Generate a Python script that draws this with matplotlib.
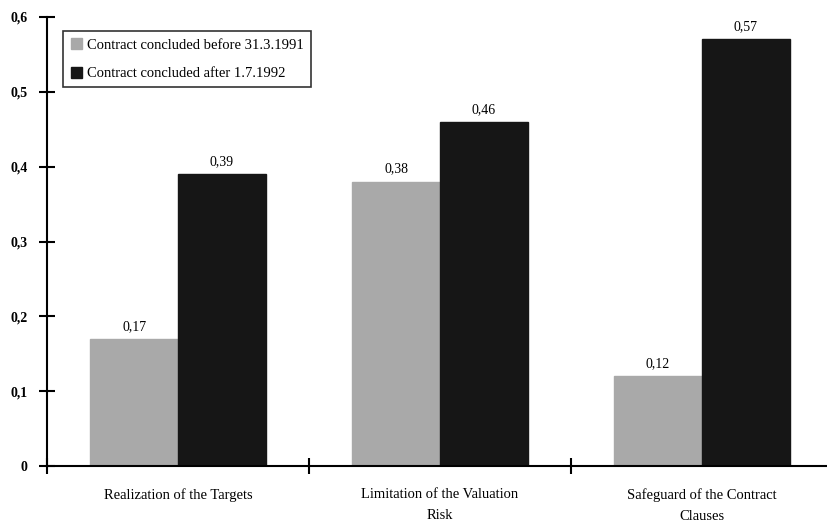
import matplotlib.pyplot as plt
import numpy as np

categories = ["Realization of the Targets", "Limitation of the Valuation\nRisk",
              "Safeguard of the Contract\nClauses"]
before = [0.17, 0.38, 0.12]
after = [0.39, 0.46, 0.57]
series_names = ["Contract concluded before 31.3.1991", "Contract concluded after 1.7.1992"]
yticks = [0, 0.1, 0.2, 0.3, 0.4, 0.5, 0.6]

plt.rcParams["font.family"] = ["Liberation Serif", "DejaVu Serif"]

fig = plt.figure(figsize=(8.27, 5.24), dpi=100)
ax = fig.add_axes([47 / 827, 58 / 524, 786 / 827, 449 / 524])

x = np.arange(len(categories))
w = 0.335
b1 = ax.bar(x - w / 2, before, w, color="#a9a9a9", edgecolor="#a9a9a9", label=series_names[0])
b2 = ax.bar(x + w / 2, after, w, color="#161616", edgecolor="#161616", label=series_names[1])

for bars, vals in ((b1, before), (b2, after)):
    for r, v in zip(bars, vals):
        ax.text(r.get_x() + r.get_width() / 2, v + 0.008, f"{v:.2f}".replace(".", ","),
                ha="center", va="bottom", fontsize=10)

ax.set_xlim(-0.5, 2.5)
ax.set_ylim(0, 0.6)
ax.set_yticks(yticks)
ax.set_yticklabels([("%g" % t).replace(".", ",") for t in yticks], fontsize=10, fontweight="bold")
ax.tick_params(axis="y", direction="inout", length=12, width=1.5, pad=8)

ax.set_xticks([-0.5, 0.5, 1.5, 2.5])
ax.set_xticklabels([])
ax.tick_params(axis="x", direction="inout", length=12, width=1.5)
for i, c in enumerate(categories):
    ax.text(i, -0.03, c, ha="center", va="top", fontsize=10.5, linespacing=1.75,
            transform=ax.transData)

for s in ["top", "right"]:
    ax.spines[s].set_visible(False)
ax.spines["left"].set_linewidth(1.5)
ax.spines["bottom"].set_linewidth(1.5)

leg = ax.legend(loc="upper left", bbox_to_anchor=(9 / 786, 0.985), fontsize=10.5,
                frameon=True, fancybox=False, edgecolor="black", handlelength=0.8,
                handleheight=0.8, handletextpad=0.3, borderpad=0.5, labelspacing=1.0)
leg.get_frame().set_linewidth(1.2)

fig.savefig("out.png", dpi=100)
